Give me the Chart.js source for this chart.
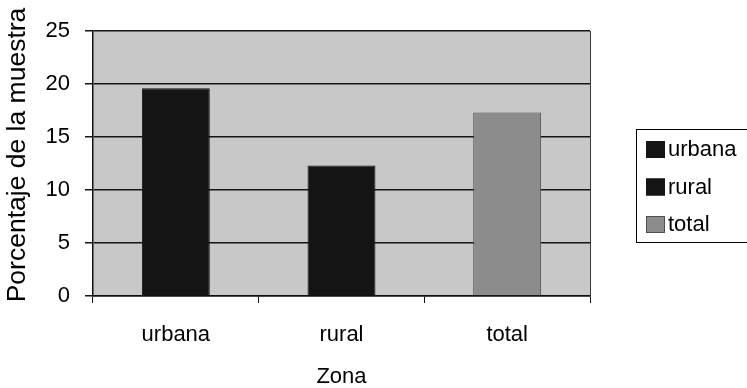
<!DOCTYPE html>
<html>
<head>
<meta charset="utf-8">
<script src="https://cdn.jsdelivr.net/npm/chart.js@4/dist/chart.umd.min.js"></script>
<style>
  html, body { margin: 0; padding: 0; background: #ffffff; }
  #wrap { width: 747px; height: 388px; position: relative; }
</style>
</head>
<body>
<div id="wrap"><canvas id="c" width="747" height="388"></canvas></div>
<script>
// Zonas y porcentaje de la muestra en cada una
const zonas = ['urbana', 'rural', 'total'];
const porcentajes = [19.6, 12.3, 17.3];
const coloresBarra = ['#141414', '#141414', '#8c8c8c'];
const bordesBarra = ['#141414', '#141414', '#505050'];
const marcasY = [0, 5, 10, 15, 20, 25];
const tituloY = 'Porcentaje de la muestra';

const FONT = '"Liberation Sans", Arial, sans-serif';

// Fondo gris del área de trazado y marco derecho
const fondoArea = {
  id: 'fondoArea',
  beforeDraw(chart) {
    const { ctx, chartArea: a } = chart;
    ctx.save();
    ctx.fillStyle = '#c8c8c8';
    ctx.fillRect(a.left, a.top, a.right - a.left, a.bottom - a.top);
    ctx.restore();
  },
  afterDatasetsDraw(chart) {
    const { ctx, chartArea: a } = chart;
    ctx.save();
    ctx.strokeStyle = '#3a3a3a';
    ctx.lineWidth = 1;
    ctx.beginPath();
    ctx.moveTo(a.right + 0.5, a.top);
    ctx.lineTo(a.right + 0.5, a.bottom);
    ctx.stroke();
    ctx.restore();
  }
};

// Título vertical del eje Y
const tituloEjeY = {
  id: 'tituloEjeY',
  afterDraw(chart) {
    const { ctx } = chart;
    ctx.save();
    ctx.translate(18, 155);
    ctx.rotate(-Math.PI / 2);
    ctx.font = '26.5px ' + FONT;
    ctx.fillStyle = '#000000';
    ctx.textAlign = 'center';
    ctx.textBaseline = 'middle';
    ctx.fillText(tituloY, 0, 0);
    ctx.restore();
  }
};

// Leyenda con marco, una entrada por zona
const leyendaZonas = {
  id: 'leyendaZonas',
  afterDraw(chart) {
    const { ctx } = chart;
    const ds = chart.data.datasets[0];
    const x0 = 636.5, y0 = 129.5, w = 112, h = 113;
    ctx.save();
    ctx.fillStyle = '#ffffff';
    ctx.fillRect(x0, y0, w, h);
    ctx.strokeStyle = '#000000';
    ctx.lineWidth = 1;
    ctx.strokeRect(x0, y0, w, h);
    ctx.font = '22px ' + FONT;
    ctx.textBaseline = 'middle';
    ctx.textAlign = 'left';
    chart.data.labels.forEach((lab, i) => {
      const cy = 149 + i * 37.5;
      ctx.fillStyle = ds.backgroundColor[i];
      ctx.fillRect(646, cy - 8, 19, 17);
      ctx.strokeStyle = ds.borderColor[i];
      ctx.strokeRect(646.5, cy - 7.5, 18, 16);
      ctx.fillStyle = '#000000';
      ctx.fillText(lab, 668, cy + 1);
    });
    ctx.restore();
  }
};

new Chart(document.getElementById('c'), {
  type: 'bar',
  data: {
    labels: zonas,
    datasets: [{
      label: tituloY,
      data: porcentajes,
      backgroundColor: coloresBarra,
      borderColor: bordesBarra,
      borderWidth: 1,
      categoryPercentage: 1,
      barPercentage: 0.41
    }]
  },
  options: {
    responsive: false,
    animation: false,
    devicePixelRatio: 1,
    layout: { padding: { left: 0, right: 157, top: 31, bottom: 0 } },
    plugins: { legend: { display: false }, tooltip: { enabled: false } },
    scales: {
      x: {
        grid: {
          offset: true,
          drawOnChartArea: false,
          drawTicks: true,
          tickLength: 7,
          color: '#111111',
          lineWidth: 1
        },
        border: { display: true, color: '#111111', width: 1.5 },
        ticks: {
          color: '#000000',
          padding: 19,
          font: { family: FONT, size: 22 }
        },
        title: {
          display: true,
          text: 'Zona',
          color: '#000000',
          padding: { top: 0, bottom: 0 },
          font: { family: FONT, size: 22, lineHeight: 1 }
        },
        afterFit(scale) { scale.height = 92; }
      },
      y: {
        min: 0,
        max: 25,
        afterBuildTicks(scale) { scale.ticks = marcasY.map(v => ({ value: v })); },
        grid: {
          drawOnChartArea: true,
          drawTicks: true,
          tickLength: 8,
          color: '#151515',
          lineWidth: 1.5
        },
        border: { display: true, color: '#111111', width: 1.5 },
        ticks: {
          color: '#000000',
          padding: 15,
          font: { family: FONT, size: 22 }
        },
        afterFit(scale) { scale.width = 93; }
      }
    }
  },
  plugins: [fondoArea, tituloEjeY, leyendaZonas]
});
</script>
</body>
</html>
